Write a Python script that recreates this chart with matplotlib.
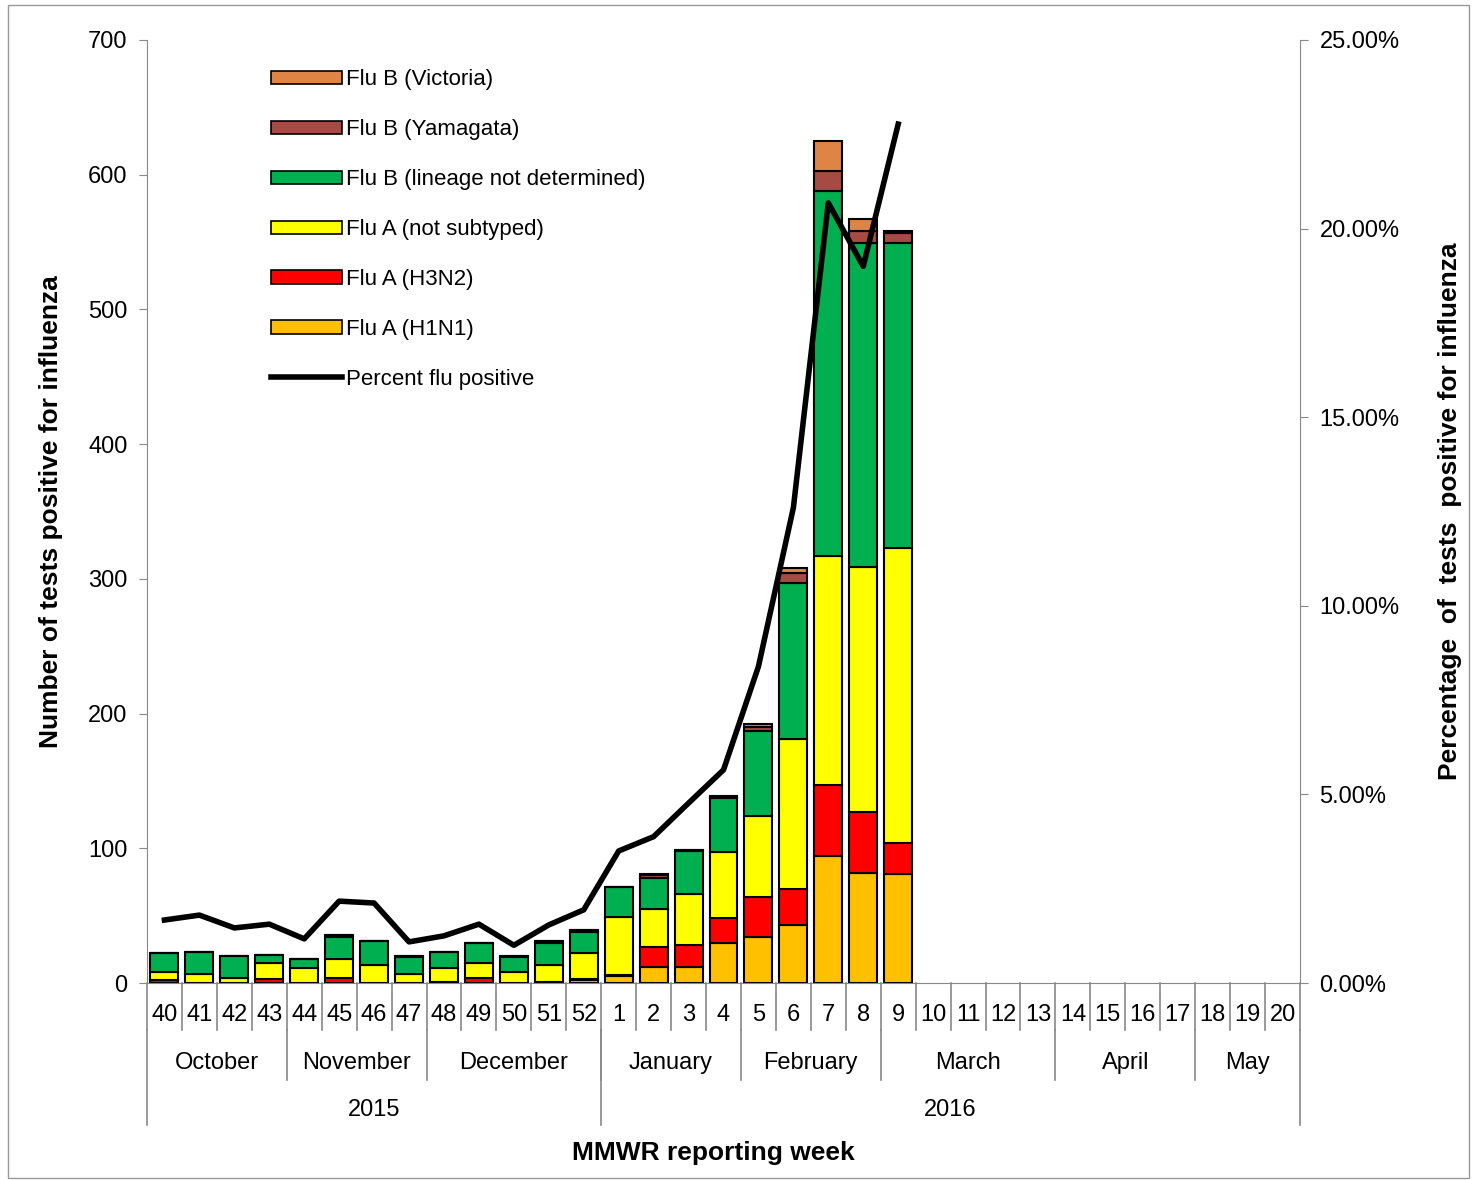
import matplotlib
matplotlib.use("Agg")
import matplotlib.pyplot as plt
from matplotlib.patches import Rectangle
from matplotlib.lines import Line2D
import numpy as np

plt.rcParams['font.family'] = ['Liberation Sans', 'DejaVu Sans']

weeks = ['40','41','42','43','44','45','46','47','48','49','50','51','52',
         '1','2','3','4','5','6','7','8','9','10','11','12','13','14','15','16','17','18','19','20']
h1n1 = [0,0,0,0,0,0,0,0,0,0,0,0,2, 5,12,12,30,34,43,94,82,81]
h3n2 = [2,0,0,3,0,4,0,0,1,4,0,1,1, 1,15,16,18,30,27,53,45,23]
a_ns = [6,7,4,12,11,14,13,7,10,11,8,12,19, 43,28,38,49,60,111,170,182,219]
b_nd = [14,16,16,6,7,16,18,12,12,15,11,17,16, 22,23,32,40,63,116,271,240,226]
b_yam= [0,0,0,0,0,2,0,1,0,0,1,1,1, 0,2,1,1,3,7,15,9,8]
b_vic= [0,0,0,0,0,0,0,0,0,0,0,0,0, 0,1,0,1,2,4,22,9,1]
pct  = [1.67,1.80,1.46,1.56,1.17,2.17,2.12,1.09,1.25,1.56,1.00,1.54,1.94,
        3.50,3.88,4.77,5.65,8.39,12.6,20.68,19.0,22.77]
months = ['October','November','December','January','February','March','April','May']
month_len = [4,4,5,4,4,5,4,3]
years = ['2015','2016']
year_len = [13,20]

series = [('Flu A (H1N1)', h1n1, '#FFC000'), ('Flu A (H3N2)', h3n2, '#FF0000'),
          ('Flu A (not subtyped)', a_ns, '#FFFF00'), ('Flu B (lineage not determined)', b_nd, '#00B050'),
          ('Flu B (Yamagata)', b_yam, '#A64A44'), ('Flu B (Victoria)', b_vic, '#DE8444')]

FS = 17
fig = plt.figure(figsize=(14.77, 11.8), dpi=100)
ax = fig.add_axes([147/1477, 1-983/1180, (1300-147)/1477, (983-40)/1180])
n = len(weeks)
x = np.arange(len(h1n1))
bottom = np.zeros(len(h1n1))
for name, vals, col in series:
    ax.bar(x, vals, 0.8, bottom=bottom, color=col, edgecolor='black', linewidth=1.5, label=name, zorder=2)
    bottom += np.array(vals)
ax.set_xlim(-0.5, n-0.5)
ax.set_ylim(0, 700)
ax.set_yticks(range(0, 701, 100))
ax.tick_params(axis='y', labelsize=FS, length=6, color='#888888', pad=8)
ax.set_xticks([])
for s in ['top', 'right']:
    ax.spines[s].set_visible(False)
for s in ['left', 'bottom']:
    ax.spines[s].set_color('#888888')
ax.set_ylabel('Number of tests positive for influenza', fontsize=19, fontweight='bold', labelpad=18)

ax2 = ax.twinx()
ax2.plot(x, pct, color='black', linewidth=4, zorder=3)
ax2.set_ylim(0, 25)
ax2.set_yticks(range(0, 26, 5))
ax2.set_yticklabels([f'{v:.2f}%' for v in range(0, 26, 5)])
ax2.tick_params(axis='y', labelsize=FS, length=6, color='#888888', pad=8)
for s in ['top', 'left', 'bottom']:
    ax2.spines[s].set_visible(False)
ax2.spines['right'].set_color('#888888')
ax2.set_ylabel('Percentage  of  tests  positive for influenza', fontsize=19, fontweight='bold', labelpad=28)

tr = ax.get_xaxis_transform()
def px(yp):
    return -(yp - 983) / (983 - 40)
gc = '#888888'
for i in range(n + 1):
    ax.plot([i-0.5, i-0.5], [0, px(1030)], transform=tr, color=gc, lw=1.2, clip_on=False)
for i, w in enumerate(weeks):
    ax.text(i, px(1015), w, transform=tr, ha='center', va='center', fontsize=FS)
pos = 0
for m, L in zip(months, month_len):
    ax.text(pos + L/2 - 0.5, px(1063), m, transform=tr, ha='center', va='center', fontsize=FS)
    pos += L
    if pos < n:
        ax.plot([pos-0.5, pos-0.5], [px(1030), px(1080)], transform=tr, color=gc, lw=1.2, clip_on=False)
pos = 0
ax.plot([-0.5, -0.5], [px(1030), px(1125)], transform=tr, color=gc, lw=1.2, clip_on=False)
for yv, L in zip(years, year_len):
    ax.text(pos + L/2 - 0.5, px(1110), yv, transform=tr, ha='center', va='center', fontsize=FS)
    pos += L
    ax.plot([pos-0.5, pos-0.5], [px(1030), px(1125)], transform=tr, color=gc, lw=1.2, clip_on=False)
fig.text(713/1477, 1-1153/1180, 'MMWR reporting week', ha='center', va='center', fontsize=19, fontweight='bold')

handles = [Rectangle((0,0),1,1, facecolor=c, edgecolor='black', lw=1.2) for _, _, c in series[::-1]]
labels = [nm for nm, _, _ in series[::-1]]
handles.append(Line2D([0],[0], color='black', lw=4))
labels.append('Percent flu positive')
ax.legend(handles, labels, loc='upper left', bbox_to_anchor=(0.09, 0.99), frameon=False,
          fontsize=16, handlelength=3.2, handleheight=0.55, handletextpad=0.2, labelspacing=1.3)

fig.patches.append(Rectangle((8/1477, 0.002), 1-16/1477, 1-7/1180, transform=fig.transFigure,
                             fill=False, edgecolor='#999999', lw=1))
fig.savefig('out.png', dpi=100)
